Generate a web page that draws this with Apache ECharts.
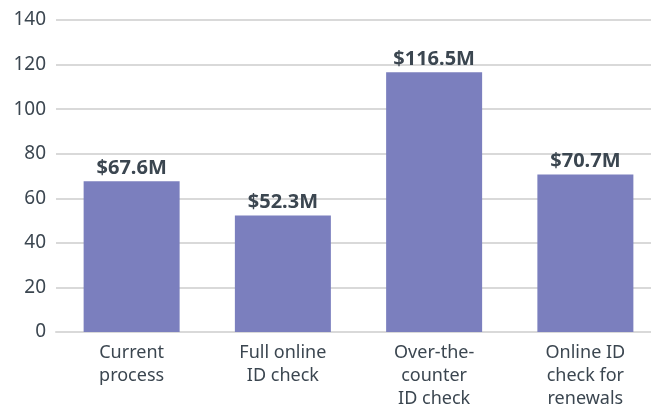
<!DOCTYPE html>
<html>
<head>
<meta charset="utf-8">
<script src="https://cdn.jsdelivr.net/npm/echarts@6/dist/echarts.min.js"></script>
<style>
  html, body { margin: 0; padding: 0; background: #fff; }
  #chart { width: 651px; height: 412px; }
</style>
</head>
<body>
<div id="chart"></div>
<script>
// 类别与数值
var categories = ['Current\nprocess', 'Full online\nID check', 'Over-the-\ncounter\nID check', 'Online ID\ncheck for\nrenewals'];
var costs = [67.6, 52.3, 116.5, 70.7];
var costLabels = ['$67.6M', '$52.3M', '$116.5M', '$70.7M'];

var textColor = '#3b4650';

var option = {
    animation: false,
    grid: { left: 56, width: 605, top: 20, bottom: 80, outerBoundsMode: 'none' },
    xAxis: {
        type: 'category',
        data: categories,
        axisLine: { lineStyle: { color: '#d9d9d9', width: 2 } },
        axisTick: { show: false },
        axisLabel: {
            color: textColor,
            fontFamily: 'Noto Sans',
            fontSize: 18,
            lineHeight: 23,
            margin: 9
        }
    },
    yAxis: {
        type: 'value',
        min: 0,
        max: 140,
        interval: 20,
        axisLine: { show: false },
        axisTick: { show: false },
        splitLine: { lineStyle: { color: '#d9d9d9', width: 2 } },
        axisLabel: {
            color: textColor,
            fontFamily: 'Noto Sans',
            fontSize: 19,
            margin: 10
        }
    },
    series: [
        {
            type: 'bar',
            data: costs,
            barWidth: 96,
            itemStyle: { color: '#7b7fbe' },
            label: {
                show: true,
                position: 'top',
                distance: 3,
                color: textColor,
                fontFamily: 'Noto Sans',
                fontWeight: 'bold',
                fontSize: 20,
                formatter: function (p) { return costLabels[p.dataIndex]; }
            }
        }
    ]
};

var chart = echarts.init(document.getElementById('chart'));
chart.setOption(option);
</script>
</body>
</html>
